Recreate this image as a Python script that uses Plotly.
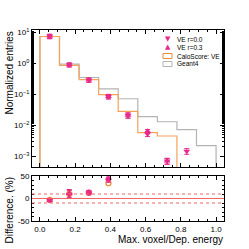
import plotly.graph_objects as go

# ---------------- data ----------------
bin_edges = [0.0, 1/9, 2/9, 3/9, 4/9, 5/9, 6/9, 7/9, 8/9, 1.0]
bin_centers = [(bin_edges[i] + bin_edges[i + 1]) / 2 for i in range(9)]

geant4 = [7.4, 0.95, 0.35, 0.15, 0.072, 0.019, 0.013, 0.0072, 0.0022]
caloscore_ve = [7.4, 0.86, 0.30, 0.098, 0.028, 0.0058, 0.0045, 0.0, 0.0]

ve_r00 = [7.5, 0.90, 0.29, 0.085, 0.021, 0.0052, 0.0007, 0.00145, None]
ve_r03 = [7.5, 0.90, 0.29, 0.085, 0.021, 0.0064, 0.0007, None, None]
ve_r00_err = [1.2, 0.13, 0.045, 0.014, 0.004, 0.0009, 0.00015, 0.0003, None]
ve_r03_err = [1.2, 0.13, 0.045, 0.014, 0.004, 0.0009, 0.00015, None, None]

diff_calo = [-3, 10, 13, 34, None, None, None, None, None]
diff_r00 = [-4, 9, 12, 41, None, None, None, None, None]
diff_r03 = [-4, 11, 14, 45, None, None, None, None, None]
diff_err = [3, 9, 4, 5, None, None, None, None, None]

log_tickvals = [1e-3, 1e-2, 1e-1, 1, 10]
log_ticktext = ["10<sup>−3</sup>", "10<sup>−2</sup>", "10<sup>−1</sup>",
                "10<sup>0</sup>", "10<sup>1</sup>"]
diff_tickvals = [-50, 0, 50]
diff_ticktext = ["-50", "0", "50"]
x_tickvals = [0.0, 0.2, 0.4, 0.6, 0.8, 1.0]
x_ticktext = ["0.0", "0.2", "0.4", "0.6", "0.8", "1.0"]

legend_labels = ["VE r=0.0", "VE r=0.3", "CaloScore: VE", "Geant4"]

# ---------------- style ----------------
W, H = 249, 249
ML, MR, MT, MB = 32, 25, 30, 28
PW, PH = W - ML - MR, H - MT - MB
PINK = "#e7298a"
ORANGE = "#f4a25a"
ORANGE_DARK = "#ee8a3a"
GRAY = "#b4b4b4"
RED = "#f26464"
FONT = "Liberation Sans, Arial, sans-serif"
YLOG_RANGE = [-3.35, 1.08]
floor = 10 ** (YLOG_RANGE[0] - 1)


def px(x):
    return (x - ML) / PW


def py(y):
    return (H - MB - y) / PH


def step_xy(values):
    xs = [bin_edges[0]] + list(bin_edges)
    ys = [floor] + [v if v > 0 else floor for v in values] + [floor]
    return xs, ys


fig = go.Figure()

# histograms (top panel)
for vals, col, wid in [(geant4, GRAY, 1.2), (caloscore_ve, ORANGE, 1.2)]:
    sx, sy = step_xy(vals)
    fig.add_trace(go.Scatter(x=sx, y=sy, mode="lines", line=dict(color=col, width=wid, shape="hv"),
                             xaxis="x2", yaxis="y2", showlegend=False, hoverinfo="skip"))

for vals, errs, sym in [(ve_r00, ve_r00_err, "triangle-down"), (ve_r03, ve_r03_err, "triangle-up")]:
    fig.add_trace(go.Scatter(x=bin_centers, y=vals, mode="markers",
                             marker=dict(symbol=sym, size=6, color=PINK, line=dict(width=0)),
                             error_y=dict(type="data", array=errs, visible=True, color=PINK,
                                          thickness=1, width=2.5),
                             xaxis="x2", yaxis="y2", showlegend=False))

# bottom panel
fig.add_trace(go.Scatter(x=bin_centers, y=diff_calo, mode="markers",
                         marker=dict(symbol="circle-open", size=5, color=ORANGE_DARK, line=dict(width=1.3)),
                         xaxis="x", yaxis="y", showlegend=False))
for vals, sym in [(diff_r00, "triangle-down"), (diff_r03, "triangle-up")]:
    fig.add_trace(go.Scatter(x=bin_centers, y=vals, mode="markers",
                             marker=dict(symbol=sym, size=6, color=PINK, line=dict(width=0)),
                             error_y=dict(type="data", array=diff_err, visible=True, color=PINK,
                                          thickness=1, width=2.5),
                             xaxis="x", yaxis="y", showlegend=False))

# reference lines in the bottom panel
for yv, dash in [(0, "solid"), (10, "dot"), (-10, "dot")]:
    fig.add_shape(type="line", xref="x domain", yref="y", x0=0, x1=1, y0=yv, y1=yv,
                  line=dict(color=RED, width=1, dash=dash))

axis_common = dict(showline=True, linecolor="black", linewidth=1, mirror="allticks",
                   ticks="inside", ticklen=4, tickcolor="black", tickwidth=0.8,
                   showgrid=False, zeroline=False, automargin=False,
                   tickfont=dict(size=8, color="black", family=FONT))

fig.update_layout(
    width=W, height=H,
    margin=dict(l=ML, r=MR, t=MT, b=MB, pad=0),
    paper_bgcolor="white", plot_bgcolor="white",
    font=dict(family=FONT, color="black"),
    showlegend=False,
    xaxis=dict(domain=[0, 1], anchor="y", range=[-0.045, 1.045],
               tickvals=x_tickvals, ticktext=x_ticktext,
               minor=dict(ticks="inside", ticklen=2, dtick=0.05, tick0=0, tickcolor="black", showgrid=False),
               **axis_common),
    xaxis2=dict(domain=[0, 1], anchor="y2", matches="x", range=[-0.045, 1.045],
                tickvals=x_tickvals, showticklabels=False,
                minor=dict(ticks="inside", ticklen=2, dtick=0.05, tick0=0, tickcolor="black", showgrid=False),
                **axis_common),
    yaxis=dict(domain=[0, 45 / PH], anchor="x", range=[-50, 50],
               tickvals=diff_tickvals, ticktext=diff_ticktext,
               minor=dict(ticks="inside", ticklen=2, dtick=10, tick0=0, tickcolor="black", showgrid=False),
               **axis_common),
    yaxis2=dict(domain=[54 / PH, 1], anchor="x2", type="log", range=YLOG_RANGE,
                tickvals=log_tickvals, ticktext=log_ticktext,
                minor=dict(ticks="inside", ticklen=2, tickcolor="black", showgrid=False),
                **axis_common),
)

# axis titles
fig.add_annotation(text="Normalized entries", xref="paper", yref="paper", x=px(9), y=py(30),
                   xanchor="center", yanchor="top", textangle=-90, showarrow=False,
                   font=dict(size=10, color="black", family=FONT))
fig.add_annotation(text="Difference. (%)", xref="paper", yref="paper", x=px(9), y=py(175),
                   xanchor="center", yanchor="top", textangle=-90, showarrow=False,
                   font=dict(size=10, color="black", family=FONT))
fig.add_annotation(text="Max. voxel/Dep. energy", xref="paper", yref="paper", x=px(225), y=py(239),
                   xanchor="right", yanchor="middle", showarrow=False,
                   font=dict(size=10, color="black", family=FONT))

# manual legend
leg_y = [39, 47, 56, 64]
for i, lab in enumerate(legend_labels):
    fig.add_annotation(text=lab, xref="paper", yref="paper", x=px(175), y=py(leg_y[i]),
                       xanchor="left", yanchor="middle", showarrow=False,
                       font=dict(size=6.5, color="black", family=FONT))
fig.add_annotation(text="▼", xref="paper", yref="paper", x=px(168), y=py(leg_y[0]),
                   xanchor="center", yanchor="middle", showarrow=False,
                   font=dict(size=7, color=PINK, family="DejaVu Sans"))
fig.add_annotation(text="▲", xref="paper", yref="paper", x=px(168), y=py(leg_y[1]),
                   xanchor="center", yanchor="middle", showarrow=False,
                   font=dict(size=7, color=PINK, family="DejaVu Sans"))
for i, col in [(2, ORANGE_DARK), (3, GRAY)]:
    fig.add_shape(type="rect", xref="paper", yref="paper",
                  x0=px(163), x1=px(172), y0=py(leg_y[i] - 2.5), y1=py(leg_y[i] + 2.5),
                  line=dict(color=col, width=1), fillcolor="rgba(0,0,0,0)")

fig.write_html("out.html", config={"displayModeBar": False},
               post_script="document.body.style.margin='0';")
